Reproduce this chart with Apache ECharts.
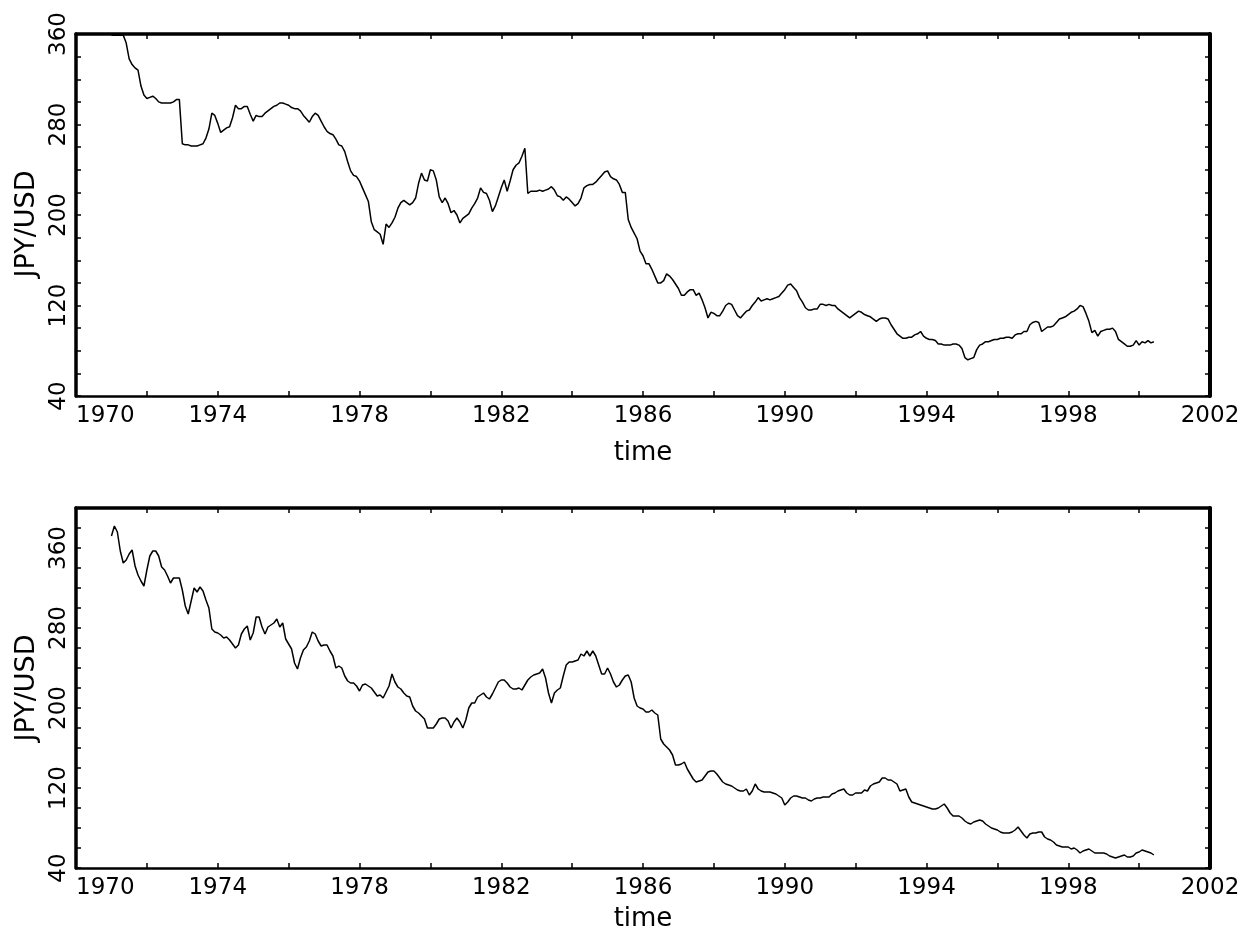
<!DOCTYPE html>
<html>
<head>
<meta charset="utf-8">
<script src="https://cdn.jsdelivr.net/npm/echarts@6/dist/echarts.min.js"></script>
<style>
html,body{margin:0;padding:0;background:#fff;}
#chart{width:1252px;height:935px;}
</style>
</head>
<body>
<div id="chart"></div>
<script>
// Monthly series, first value = January 1971
const START_YEAR = 1971;

const nominalRate = [
359,359,359,359,359,352,338,333,330,328,314,306,
303,304,305,303,300,299,299,299,299,300,302,302,
263,262,262,261,261,261,262,263,268,276,290,288,
281,273,275,277,278,286,297,294,294,296,296,289,
283,288,287,287,290,292,294,296,297,299,299,298,
297,295,294,294,292,288,285,282,287,290,288,283,
278,274,272,271,267,262,261,256,247,239,235,234,
230,224,218,212,194,187,185,183,174,192,189,193,
198,206,211,213,211,209,211,215,228,237,231,230,
240,239,231,216,211,215,210,202,204,200,193,197,
199,201,206,210,215,224,220,219,213,203,208,216,
224,231,221,230,240,244,246,252,259,219,221,221,
221,222,221,222,223,225,222,217,216,213,216,214,
211,208,210,215,224,226,227,227,229,232,235,238,
239,234,232,231,227,220,220,196,189,184,179,168,
164,157,157,152,146,140,140,142,148,146,143,139,
135,129,129,132,134,134,129,131,125,118,109,114,
113,111,111,115,120,122,121,116,111,109,112,115,
116,120,123,127,124,125,126,125,126,127,128,131,
134,138,139,136,133,127,123,118,116,116,117,117,
121,121,120,121,120,120,117,115,113,111,109,111,
113,115,114,112,111,110,108,106,108,109,109,108,
103,99,95,93,91,91,92,92,94,95,97,93,
91,90,90,89,86,86,85,85,85,86,86,85,
82,74,72,73,74,81,85,86,88,88,89,90,
90,91,91,92,92,91,94,95,95,97,97,103,
105,106,105,97,99,101,101,102,105,108,109,110,
112,114,115,117,120,119,113,106,96,98,93,97,
98,99,99,100,97,90,88,86,84,84,85,89,
85,88,87,89,87,88
];

const realRate = [
372,382,376,357,345,348,354,358,342,333,327,322,
338,352,357,357,352,341,338,332,325,330,330,330,
318,302,294,307,320,316,321,317,308,300,279,276,
275,273,270,271,268,264,260,263,274,279,282,268,
275,291,291,281,274,281,283,285,289,281,285,269,
264,259,245,239,250,258,261,267,276,274,267,262,
263,263,257,252,240,242,240,232,227,225,225,222,
217,223,224,222,220,216,212,213,210,216,222,234,
226,221,219,215,212,211,202,197,195,192,189,180,
180,180,184,189,190,190,187,180,186,190,186,180,
188,200,205,205,211,213,215,211,209,214,220,226,
228,228,225,221,219,219,220,218,223,228,231,233,
234,235,239,230,215,205,215,218,220,232,243,246,
246,247,248,254,252,257,252,257,252,243,234,234,
240,234,226,221,223,228,232,233,226,210,202,200,
199,196,196,198,195,193,169,164,161,158,153,143,
143,144,146,139,134,129,126,127,128,132,136,137,
137,134,130,126,124,123,122,120,118,117,117,119,
113,117,124,119,117,116,116,116,115,114,112,110,
103,106,110,112,112,111,110,110,108,107,109,110,
110,111,111,111,114,115,117,118,119,115,113,113,
115,115,115,118,117,122,124,125,126,130,130,128,
128,126,124,117,118,119,111,106,105,104,103,102,
101,100,99,99,100,102,104,100,95,92,92,92,
90,87,85,84,86,87,88,87,84,82,80,79,
78,76,75,75,75,76,78,81,77,73,70,74,
75,75,76,76,71,69,68,66,63,62,61,61,
61,59,60,58,55,57,58,59,57,55,55,55,
55,54,52,51,50,51,52,53,51,51,52,55,
56,58,57,56,55,53
];

const yearLabels = ['1970','1974','1978','1982','1986','1990','1994','1998','2002'];
const yLabels = ['40','120','200','280','360'];

const FONT = 'DejaVu Sans';
const BLACK = '#000';

function toPoints(arr) {
  return arr.map((v, i) => [START_YEAR + i / 12, v]);
}

const tickStyle = { show: true, inside: true, length: 5, lineStyle: { color: BLACK, width: 1.5 } };

function xBottom(grid, gap) {
  return {
    type: 'value', gridIndex: grid, position: 'bottom',
    min: 1970, max: 2002, interval: 2,
    axisLine: { show: true, onZero: false, lineStyle: { color: BLACK, width: 2.5 } },
    axisTick: tickStyle,
    splitLine: { show: false },
    axisLabel: {
      margin: 9, color: BLACK, fontFamily: FONT, fontSize: 23,
      alignMinLabel: 'left',
      formatter: v => yearLabels.indexOf(String(v)) >= 0 ? String(v) : ''
    },
    name: 'time', nameLocation: 'middle', nameGap: gap,
    nameTextStyle: { color: BLACK, fontFamily: FONT, fontSize: 26 }
  };
}
function xTop(grid) {
  return {
    type: 'value', gridIndex: grid, position: 'top',
    min: 1970, max: 2002, interval: 2,
    axisLine: { show: true, onZero: false, lineStyle: { color: BLACK, width: 3.5 } },
    axisTick: tickStyle, axisLabel: { show: false }, splitLine: { show: false }
  };
}
function yLeft(grid, max, namePad) {
  return {
    type: 'value', gridIndex: grid, position: 'left',
    min: 40, max: max, interval: 20,
    axisLine: { show: true, onZero: false, lineStyle: { color: BLACK, width: 3.5 } },
    axisTick: tickStyle, splitLine: { show: false },
    axisLabel: {
      rotate: 90, margin: 5, color: BLACK, fontFamily: FONT, fontSize: 23,
      formatter: v => yLabels.indexOf(String(v)) >= 0 ? String(v) : ''
    },
    name: 'JPY/USD', nameLocation: 'middle', nameGap: 34,
    nameTextStyle: { color: BLACK, fontFamily: FONT, fontSize: 27, padding: namePad }
  };
}
function yRight(grid, max) {
  return {
    type: 'value', gridIndex: grid, position: 'right',
    min: 40, max: max, interval: 20,
    axisLine: { show: true, onZero: false, lineStyle: { color: BLACK, width: 4 } },
    axisTick: tickStyle, axisLabel: { show: false }, splitLine: { show: false }
  };
}

const chart = echarts.init(document.getElementById('chart'), null, { renderer: 'canvas' });
chart.setOption({
  backgroundColor: '#fff',
  animation: false,
  grid: [
    { left: 76, top: 34, width: 1134, height: 362 },
    { left: 76, top: 508, width: 1134, height: 360 }
  ],
  xAxis: [xBottom(0, 44), xTop(0), xBottom(1, 38), xTop(1)],
  yAxis: [yLeft(0, 360, [0, 18, 0, 0]), yRight(0, 360), yLeft(1, 400, 0), yRight(1, 400)],
  series: [
    {
      type: 'line', xAxisIndex: 0, yAxisIndex: 0, data: toPoints(nominalRate),
      showSymbol: false, lineStyle: { color: BLACK, width: 1.5 }, clip: true
    },
    {
      type: 'line', xAxisIndex: 2, yAxisIndex: 2, data: toPoints(realRate),
      showSymbol: false, lineStyle: { color: BLACK, width: 1.5 }, clip: true
    }
  ]
});
</script>
</body>
</html>
